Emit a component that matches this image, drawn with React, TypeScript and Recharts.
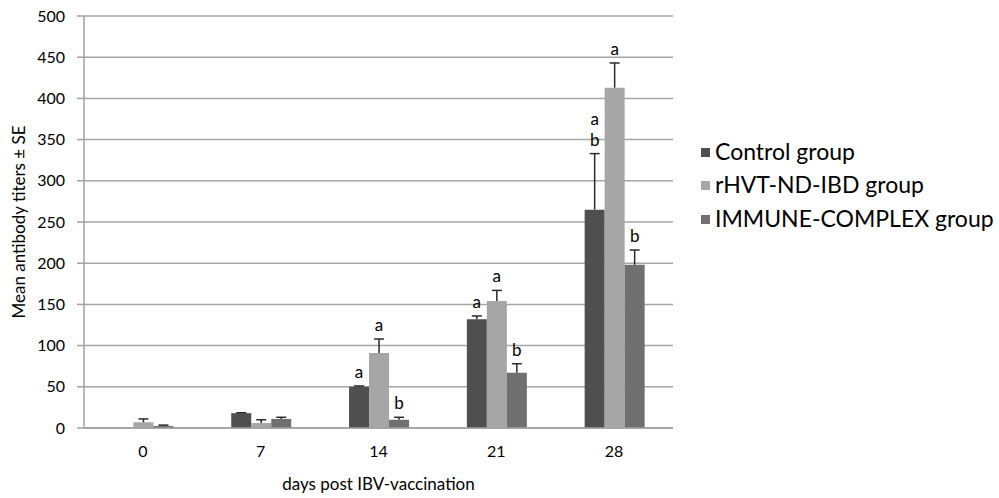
import React from 'react';
import { BarChart, Bar, XAxis, YAxis, CartesianGrid, LabelList, Legend, Label } from 'recharts';

const days = ['0', '7', '14', '21', '28'];
const controlMean = [0, 18, 50, 132, 265];
const controlSE = [0, 0.5, 1, 4, 68];
const rhvtMean = [7, 6, 91, 154, 413];
const rhvtSE = [4, 4, 17, 13, 30];
const immuneMean = [2.5, 11, 10, 67, 198];
const immuneSE = [1, 2, 3, 11, 18];
const controlLetters = ['', '', 'a', 'a', 'ab'];
const rhvtLetters = ['', '', 'a', 'a', 'a'];
const immuneLetters = ['', '', 'b', 'b', 'b'];
const seriesNames = ['Control group', 'rHVT-ND-IBD group', 'IMMUNE-COMPLEX group'];
const yTicks = [0, 50, 100, 150, 200, 250, 300, 350, 400, 450, 500];

const data = days.map((d, i) => ({
  day: d,
  control: controlMean[i],
  controlSE: controlSE[i],
  controlLetter: controlLetters[i],
  rhvt: rhvtMean[i],
  rhvtSE: rhvtSE[i],
  rhvtLetter: rhvtLetters[i],
  immune: immuneMean[i],
  immuneSE: immuneSE[i],
  immuneLetter: immuneLetters[i],
}));

const FONT = 'Lato, "Open Sans", sans-serif';
const COLORS = ['#4f4f4f', '#a6a6a6', '#707070'];

const ErrorShape = (props: any) => {
  const { x, y, width, height, value } = props;
  if (x == null || y == null) return null;
  const v = Array.isArray(value) ? value[1] - value[0] : Number(value);
  if (!v) return null;
  const cx = Number(x) + Number(width) / 2;
  const top = Number(y);
  const bottom = Number(y) + Math.max(0, Number(height) || 0);
  return (
    <g>
      <line x1={cx} y1={top} x2={cx} y2={bottom} stroke="#2a2a2a" strokeWidth={1.5} />
      <line x1={cx - 5} y1={top} x2={cx + 5} y2={top} stroke="#2a2a2a" strokeWidth={1.5} />
    </g>
  );
};

const LetterLabel = (props: any) => {
  const { x, y, width, value } = props;
  const txt = typeof value === 'string' ? value : '';
  if (!txt) return null;
  const cx = Number(x) + Number(width) / 2;
  const top = Number(y);
  const chars = txt.split('');
  return (
    <g>
      {chars.map((c, k) => (
        <text
          key={k}
          x={cx}
          y={top - 8 - (chars.length - 1 - k) * 21}
          textAnchor="middle"
          fontFamily={FONT}
          fontSize={17}
          fill="#000"
        >
          {c}
        </text>
      ))}
    </g>
  );
};

const renderLegend = () => (
  <div style={{ fontFamily: FONT }}>
    {seriesNames.map((n, i) => (
      <div key={n} style={{ display: 'flex', alignItems: 'center', height: 33.5 }}>
        <span style={{ display: 'inline-block', width: 9, height: 9, background: COLORS[i], marginRight: 5, marginTop: 3 }} />
        <span style={{ fontSize: 23, color: '#000', whiteSpace: 'nowrap' }}>{n}</span>
      </div>
    ))}
  </div>
);

const YTitle = (props: any) => {
  const vb = props.viewBox || {};
  const cx = 18;
  const cy = (vb.y || 0) + (vb.height || 0) / 2;
  return (
    <text
      x={cx}
      y={cy}
      transform={`rotate(-90 ${cx} ${cy})`}
      textAnchor="middle"
      dominantBaseline="central"
      fontFamily={FONT}
      fontSize={17}
      fill="#000"
    >
      Mean antibody titers ± SE
    </text>
  );
};

const seriesKeys = ['control', 'rhvt', 'immune'];

export default function App() {
  return (
    <div style={{ position: 'absolute', left: 0, top: 0, width: 999, height: 498, background: '#fff' }}>
      <BarChart
        width={999}
        height={498}
        data={data}
        margin={{ top: 16, right: 28, bottom: 0, left: 0 }}
        barCategoryGap="25%"
        barGap={0}
      >
        <CartesianGrid vertical={false} stroke="#a6a6a6" strokeWidth={1.5} />
        <XAxis
          dataKey="day"
          height={70}
          tickSize={0}
          tickMargin={18}
          axisLine={{ stroke: '#a0a0a0', strokeWidth: 1.5 }}
          tick={{ fontFamily: FONT, fontSize: 16, fill: '#000' }}
        >
          <Label
            value="days post IBV-vaccination"
            position="insideBottom"
            offset={8}
            style={{ fontFamily: FONT, fontSize: 17, fill: '#000' }}
          />
        </XAxis>
        <YAxis
          width={84}
          domain={[0, 500]}
          ticks={yTicks}
          interval={0}
          tickSize={7}
          tickMargin={12}
          axisLine={{ stroke: '#a0a0a0', strokeWidth: 1.5 }}
          tickLine={{ stroke: '#a0a0a0', strokeWidth: 1.5 }}
          tick={{ fontFamily: FONT, fontSize: 16, fill: '#000' }}
        >
          <Label content={<YTitle />} />
        </YAxis>
        <Legend
          layout="horizontal"
          verticalAlign="middle"
          align="right"
          content={renderLegend}
          wrapperStyle={{ left: 701, top: 134, width: 298 }}
        />
        {seriesKeys.map((k, i) => (
          <Bar key={k} dataKey={k} stackId={k} name={seriesNames[i]} fill={COLORS[i]} isAnimationActive={false} />
        ))}
        {seriesKeys.map((k) => (
          <Bar
            key={`${k}-se`}
            dataKey={`${k}SE`}
            stackId={k}
            fill="transparent"
            legendType="none"
            shape={<ErrorShape />}
            isAnimationActive={false}
          >
            <LabelList dataKey={`${k}Letter`} content={<LetterLabel />} />
          </Bar>
        ))}
      </BarChart>
    </div>
  );
}
